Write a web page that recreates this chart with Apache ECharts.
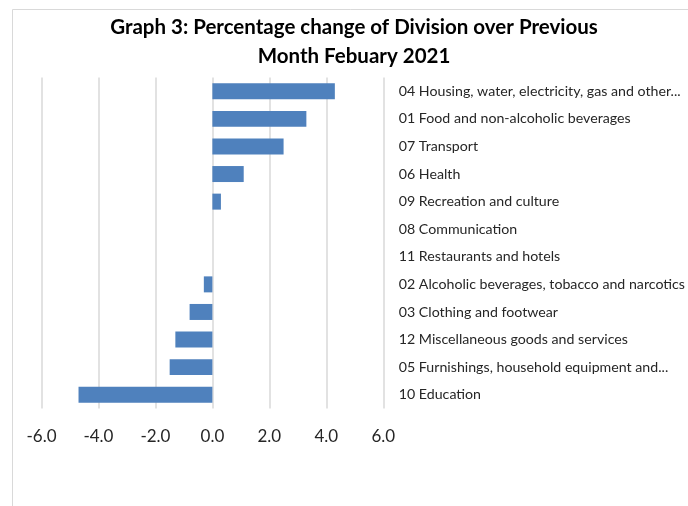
<!DOCTYPE html>
<html>
<head>
<meta charset="utf-8">
<script src="https://cdn.jsdelivr.net/npm/echarts@6/dist/echarts.min.js"></script>
<style>
html,body{margin:0;padding:0;background:#fff;}
#c{width:688px;height:506px;}
</style>
</head>
<body>
<div id="c"></div>
<script>
const titleText = 'Graph 3: Percentage change of Division over Previous\nMonth Febuary 2021';
const categories = [
  '04 Housing, water, electricity, gas and other...',
  '01 Food and non-alcoholic beverages',
  '07 Transport',
  '06 Health',
  '09 Recreation and culture',
  '08 Communication',
  '11 Restaurants and hotels',
  '02 Alcoholic beverages, tobacco and narcotics',
  '03 Clothing and footwear',
  '12 Miscellaneous goods and services',
  '05 Furnishings, household equipment and...',
  '10 Education'
];
const values = [4.3, 3.3, 2.5, 1.1, 0.3, 0.0, 0.0, -0.3, -0.8, -1.3, -1.5, -4.7];
const xMin = -6, xMax = 6, xStep = 2;

const chart = echarts.init(document.getElementById('c'), null, {renderer: 'canvas'});
chart.setOption({
  animation: false,
  backgroundColor: '#ffffff',
  graphic: [{
    type: 'rect',
    shape: {x: 12.5, y: 9.5, width: 700, height: 600},
    style: {fill: 'none', stroke: '#d9d9d9', lineWidth: 1},
    silent: true, z: -10
  }],
  title: {
    text: titleText,
    left: 354,
    top: 13,
    textAlign: 'center',
    padding: 0,
    textStyle: {
      fontFamily: 'Lato',
      fontWeight: 'bold',
      fontSize: 20.5,
      lineHeight: 29,
      color: '#000000'
    }
  },
  grid: {left: 41.5, right: 304, top: 77.5, height: 331, containLabel: false},
  xAxis: {
    type: 'value',
    min: xMin, max: xMax, interval: xStep,
    axisLine: {show: false},
    axisTick: {show: false},
    splitLine: {show: true, lineStyle: {color: '#d9d9d9', width: 1.5}},
    axisLabel: {
      margin: 20,
      fontFamily: 'Lato',
      fontSize: 17,
      lineHeight: 17,
      color: '#262626',
      formatter: v => v.toFixed(1)
    }
  },
  yAxis: {
    type: 'category',
    data: categories,
    inverse: true,
    position: 'right',
    axisLine: {show: false},
    axisTick: {show: false},
    splitLine: {show: false},
    axisLabel: {
      margin: 15.5,
      fontFamily: 'Lato',
      fontSize: 14.2,
      color: '#262626'
    }
  },
  series: [{
    type: 'bar',
    data: values,
    barWidth: '58%',
    itemStyle: {color: '#4f81bd', borderWidth: 0}
  }]
});
</script>
</body>
</html>
